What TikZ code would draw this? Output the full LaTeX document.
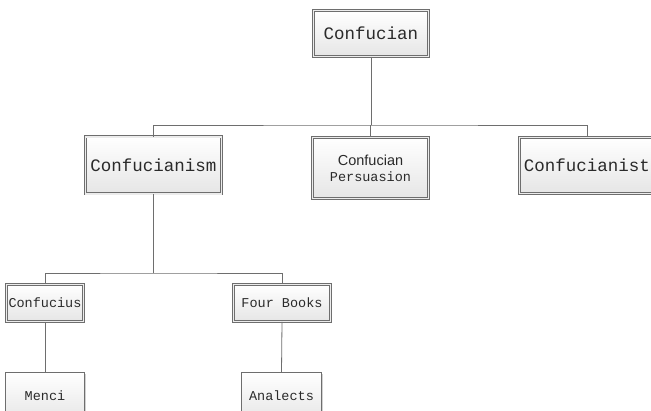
\documentclass[tikz,border=0pt]{standalone}
\usepackage{fontspec}
\setmonofont{Liberation Mono}
\newfontfamily\uisans{Liberation Sans}
\usetikzlibrary{shadows}
\definecolor{txt}{HTML}{2A2A2A}
\definecolor{edge}{HTML}{6E6E6E}
\tikzset{
  box/.style={draw=edge, line width=0.8pt, double=white!85!gray, double distance=1.4pt,
    top color=white, bottom color=black!10, inner sep=0pt, align=center,
    text=txt, font=\ttfamily,
    drop shadow={shadow xshift=1.2pt, shadow yshift=-1.2pt, fill=black, opacity=0.18}},
  plainbox/.style={draw=edge, line width=0.8pt, top color=white, bottom color=black!10,
    inner sep=0pt, align=center, text=txt, font=\ttfamily,
    drop shadow={shadow xshift=1.2pt, shadow yshift=-1.2pt, fill=black, opacity=0.18}},
  conn/.style={draw=edge, line width=0.8pt}
}
\begin{document}
\begin{tikzpicture}[x=1pt,y=-1pt]
\useasboundingbox (0,0) rectangle (651,411);
\clip (0,0) rectangle (651,411);
\fill[white] (0,0) rectangle (651,411);
\node[box, minimum width=115pt, minimum height=46pt, font=\ttfamily\fontsize{17.5}{20}\selectfont] (root) at (371,33.5) {Confucian};
\node[box, minimum width=136pt, minimum height=57pt, font=\ttfamily\fontsize{17.5}{20}\selectfont] (cism) at (153.5,165.5) {Confucianism};
\node[box, minimum width=116pt, minimum height=61pt] (pers) at (370.5,168) {{\uisans\fontsize{14.5}{18}\selectfont Confucian}\\[4pt]{\ttfamily\fontsize{13.5}{18}\selectfont Persuasion}};
\node[box, minimum width=135pt, minimum height=56pt, font=\ttfamily\fontsize{17.5}{20}\selectfont] (cist) at (587,165.5) {Confucianist};
\node[box, minimum width=77pt, minimum height=37pt, font=\ttfamily\fontsize{13.5}{16}\selectfont] (cfs) at (45,303) {Confucius};
\node[box, minimum width=97pt, minimum height=37pt, font=\ttfamily\fontsize{13.5}{16}\selectfont] (four) at (282,303) {Four Books};
\node[plainbox, minimum width=79.3pt, minimum height=49pt, anchor=north, font=\ttfamily\fontsize{13.5}{16}\selectfont] (menci) at (45,372.5) {\raisebox{4pt}{Menci}};
\node[plainbox, minimum width=80.3pt, minimum height=49pt, anchor=north, font=\ttfamily\fontsize{13.5}{16}\selectfont] (anal) at (281.5,372.5) {\raisebox{4pt}{Analects}};
\coordinate (j1) at (371,125);
\coordinate (j2) at (153.5,273);
\draw[conn] (root.south) -- (j1);
\draw[conn] (cism.north) |- (j1) -| (cist.north);
\draw[conn] (pers.north) -- (pers.north |- j1);
\draw[conn] (cism.south) -- (j2);
\draw[conn] (cfs.north) |- (j2) -| (four.north);
\draw[conn] (cfs.south) -- (menci.north);
\draw[conn] (four.south) -- (anal.north);
\end{tikzpicture}
\end{document}
